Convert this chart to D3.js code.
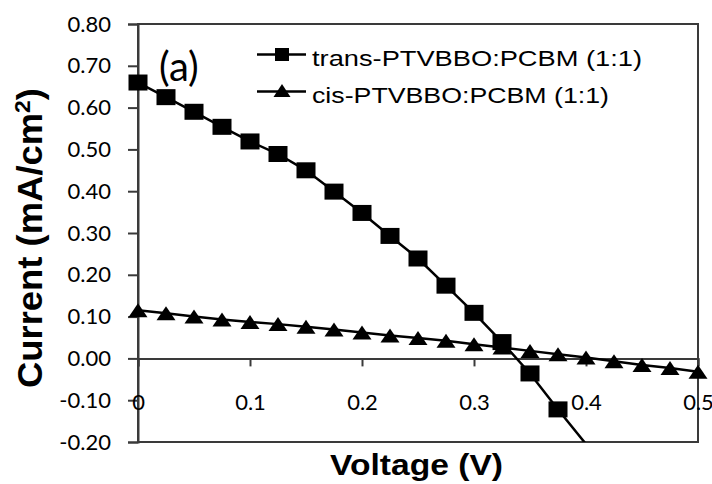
<!DOCTYPE html>
<html>
<head>
<meta charset="utf-8">
<script src="https://cdn.jsdelivr.net/npm/d3@7"></script>
<style>
body { margin: 0; background: #fff; }
</style>
</head>
<body>
<script>
// J-V curves
var transVoltage = [0, 0.025, 0.05, 0.075, 0.1, 0.125, 0.15, 0.175, 0.2, 0.225, 0.25, 0.275, 0.3, 0.325, 0.35, 0.375, 0.4];
var transCurrent = [0.66, 0.625, 0.59, 0.554, 0.519, 0.489, 0.45, 0.399, 0.348, 0.293, 0.239, 0.174, 0.109, 0.039, -0.036, -0.122, -0.205];
var cisVoltage = [0, 0.025, 0.05, 0.075, 0.1, 0.125, 0.15, 0.175, 0.2, 0.225, 0.25, 0.275, 0.3, 0.325, 0.35, 0.375, 0.4, 0.425, 0.45, 0.475, 0.5];
var cisCurrent = [0.115, 0.108, 0.1, 0.093, 0.087, 0.082, 0.076, 0.069, 0.062, 0.055, 0.049, 0.042, 0.034, 0.026, 0.018, 0.01, 0.002, -0.007, -0.016, -0.023, -0.032];
var yTicks = [0.8, 0.7, 0.6, 0.5, 0.4, 0.3, 0.2, 0.1, 0, -0.1, -0.2];
var yTickLabels = ['0.80', '0.70', '0.60', '0.50', '0.40', '0.30', '0.20', '0.10', '0.00', '-0.10', '-0.20'];
var xTicks = [0, 0.1, 0.2, 0.3, 0.4, 0.5];
var xTickLabels = ['0', '0.1', '0.2', '0.3', '0.4', '0.5'];
var seriesNames = ['trans-PTVBBO:PCBM (1:1)', 'cis-PTVBBO:PCBM (1:1)'];

var W = 712, H = 484;
var plotL = 138, plotR = 698, plotT = 24, plotB = 442;
var axisColor = '#3a3a3a';

var svg = d3.select('body').append('svg')
	.attr('width', W).attr('height', H);

var x = d3.scaleLinear().domain([0, 0.5]).range([plotL, plotR]);
var y = d3.scaleLinear().domain([-0.2, 0.8]).range([plotB, plotT]);

// frame
svg.append('rect')
	.attr('x', plotL).attr('y', plotT)
	.attr('width', plotR - plotL).attr('height', plotB - plotT)
	.style('fill', 'none').style('stroke', axisColor).style('stroke-width', 2);

// y axis
var yAxis = svg.append('g')
	.attr('transform', 'translate(' + plotL + ',0)')
	.call(d3.axisLeft(y).tickValues(yTicks).tickSize(10).tickPadding(17)
		.tickFormat(function(d, i){ return yTickLabels[i]; }));
yAxis.select('.domain').style('stroke', axisColor).style('stroke-width', 2);
yAxis.selectAll('.tick line').style('stroke', axisColor).style('stroke-width', 2);
yAxis.selectAll('.tick text')
	.style('font-family', 'Lato, sans-serif').style('font-size', '22px').style('fill', '#000');

// x axis sits on zero, labels hang lower
var xAxis = svg.append('g')
	.attr('transform', 'translate(0,' + y(0) + ')')
	.call(d3.axisBottom(x).tickValues(xTicks).tickSize(8).tickPadding(28)
		.tickFormat(function(d, i){ return xTickLabels[i]; }));
xAxis.select('.domain').style('stroke', axisColor).style('stroke-width', 2);
xAxis.selectAll('.tick line').style('stroke', axisColor).style('stroke-width', 2);
xAxis.selectAll('.tick text')
	.style('font-family', 'Lato, sans-serif').style('font-size', '22px').style('fill', '#000');

// clip to plot area
svg.append('clipPath').attr('id', 'plotClip')
	.append('rect')
	.attr('x', plotL).attr('y', plotT)
	.attr('width', plotR - plotL).attr('height', plotB - plotT);

var plot = svg.append('g').attr('clip-path', 'url(#plotClip)');

var transData = transVoltage.map(function(v, i){ return [v, transCurrent[i]]; });
var cisData = cisVoltage.map(function(v, i){ return [v, cisCurrent[i]]; });

var line = d3.line()
	.x(function(d){ return x(d[0]); })
	.y(function(d){ return y(d[1]); });

var inRange = function(d){ return d[1] >= -0.2 && d[1] <= 0.8; };

plot.append('path').datum(transData)
	.attr('d', line)
	.style('fill', 'none').style('stroke', '#000').style('stroke-width', 2.5);

svg.selectAll('.sq').data(transData.filter(inRange)).enter()
	.append('rect')
	.attr('class', 'sq')
	.attr('x', function(d){ return x(d[0]) - 9.5; })
	.attr('y', function(d){ return y(d[1]) - 8; })
	.attr('width', 19).attr('height', 16)
	.style('fill', '#000');

plot.append('path').datum(cisData)
	.attr('d', line)
	.style('fill', 'none').style('stroke', '#000').style('stroke-width', 2.5);

var tri = function(cx, cy, w, h){
	return (cx - w/2) + ',' + (cy + h/2) + ' ' + cx + ',' + (cy - h/2) + ' ' + (cx + w/2) + ',' + (cy + h/2);
};

svg.selectAll('.tri').data(cisData).enter()
	.append('polygon')
	.attr('class', 'tri')
	.attr('points', function(d){ return tri(x(d[0]), y(d[1]), 19, 14); })
	.style('fill', '#000');

// legend
var legY = [54.5, 91.5];
svg.append('line')
	.attr('x1', 257).attr('x2', 306).attr('y1', legY[0]).attr('y2', legY[0])
	.style('stroke', '#000').style('stroke-width', 2.5);
svg.append('rect')
	.attr('x', 275).attr('y', legY[0] - 6.5).attr('width', 14).attr('height', 13)
	.style('fill', '#000');
svg.append('line')
	.attr('x1', 257).attr('x2', 306).attr('y1', legY[1]).attr('y2', legY[1])
	.style('stroke', '#000').style('stroke-width', 2.5);
svg.append('polygon')
	.attr('points', tri(282, legY[1] - 1, 17, 13))
	.style('fill', '#000');

svg.selectAll('.leg').data(seriesNames).enter()
	.append('text')
	.attr('class', 'leg')
	.attr('x', 312)
	.attr('y', function(d, i){ return legY[i] + 11; })
	.attr('textLength', function(d, i){ return i === 0 ? 330 : 297; })
	.attr('lengthAdjust', 'spacingAndGlyphs')
	.style('font-family', '"Liberation Sans", Arial, sans-serif')
	.style('font-size', '22px')
	.text(function(d){ return d; });

// panel label
svg.append('text')
	.attr('x', 159).attr('y', 81)
	.style('font-family', 'Lato, sans-serif').style('font-size', '40px')
	.text('(a)');

// axis titles
svg.append('text')
	.attr('x', 330).attr('y', 475)
	.attr('textLength', 173).attr('lengthAdjust', 'spacingAndGlyphs')
	.style('font-family', '"Liberation Sans", Arial, sans-serif')
	.style('font-size', '29px').style('font-weight', 'bold')
	.text('Voltage (V)');

var yTitle = svg.append('text')
	.attr('transform', 'translate(42,388) rotate(-90)')
	.attr('textLength', 300).attr('lengthAdjust', 'spacingAndGlyphs')
	.style('font-family', '"Liberation Sans", Arial, sans-serif')
	.style('font-size', '35px').style('font-weight', 'bold');
yTitle.append('tspan').text('Current (mA/cm');
yTitle.append('tspan').attr('dy', -12).style('font-size', '22px').text('2');
yTitle.append('tspan').attr('dy', 12).text(')');
</script>
</body>
</html>
